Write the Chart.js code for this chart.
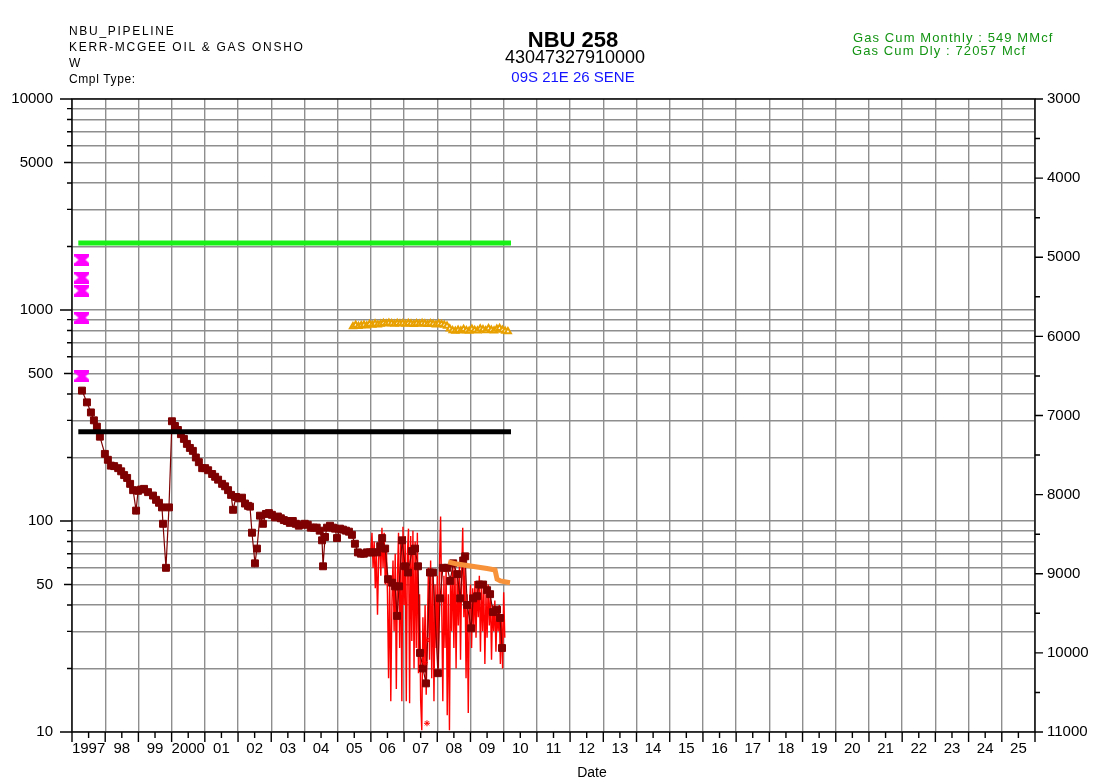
<!DOCTYPE html>
<html>
<head>
<meta charset="utf-8">
<title>NBU 258</title>
<script src="https://cdn.jsdelivr.net/npm/chart.js@4.4.0/dist/chart.umd.min.js"></script>
<style>
  html, body { margin: 0; padding: 0; background: #fff; }
  #wrap { width: 1095px; height: 783px; }
</style>
</head>
<body>
<div id="wrap"><canvas id="prodChart" width="1095" height="783"></canvas></div>
<script>
// header text
var fieldName = 'NBU_PIPELINE';
var operatorName = 'KERR-MCGEE OIL & GAS ONSHO';
var wellType = 'W';
var cmplType = 'Cmpl Type:';
var wellName = 'NBU 258';
var apiNumber = '43047327910000';
var wellLocation = '09S 21E 26 SENE';
var cumLines = ['Gas Cum Monthly : 549 MMcf', 'Gas Cum Dly : 72057 Mcf'];

// axes
var xTickLabels = ['1997', '98', '99', '2000', '01', '02', '03', '04', '05', '06', '07', '08', '09',
  '10', '11', '12', '13', '14', '15', '16', '17', '18', '19', '20', '21', '22', '23', '24', '25'];
var leftTicks = [10, 20, 30, 40, 50, 60, 70, 80, 90, 100, 200, 300, 400, 500, 600, 700, 800, 900,
  1000, 2000, 3000, 4000, 5000, 6000, 7000, 8000, 9000, 10000];
var leftLabels = [10, 50, 100, 500, 1000, 5000, 10000];

// flat reference lines
var refDates = [1997.19, 2010.22];
var greenValues = [2080, 2080];
var blackValues = [265, 265];

// pink markers at first production
var pinkDates = [1997.30, 1997.30, 1997.30, 1997.30, 1997.30];
var pinkValues = [1730, 1425, 1235, 920, 485];

// monthly gas rate (dark red squares)
var gasDates = [1997.30, 1997.45, 1997.57, 1997.66, 1997.75, 1997.84, 1997.99, 1998.08, 1998.17, 1998.27,
  1998.39, 1998.48, 1998.57, 1998.66, 1998.75, 1998.84, 1998.93, 1998.99, 1999.08, 1999.17,
  1999.29, 1999.44, 1999.53, 1999.62, 1999.71, 1999.74, 1999.83, 1999.92, 2000.01, 2000.10,
  2000.19, 2000.28, 2000.37, 2000.46, 2000.55, 2000.64, 2000.73, 2000.82, 2000.92, 2001.01,
  2001.10, 2001.22, 2001.31, 2001.40, 2001.52, 2001.61, 2001.70, 2001.79, 2001.85, 2001.94,
  2002.03, 2002.12, 2002.21, 2002.30, 2002.36, 2002.42, 2002.51, 2002.57, 2002.66, 2002.75,
  2002.84, 2002.93, 2003.02, 2003.11, 2003.20, 2003.29, 2003.38, 2003.47, 2003.56, 2003.65,
  2003.74, 2003.83, 2003.92, 2004.01, 2004.10, 2004.19, 2004.28, 2004.37, 2004.46, 2004.53,
  2004.56, 2004.62, 2004.68, 2004.77, 2004.86, 2004.92, 2004.98, 2005.07, 2005.16, 2005.25,
  2005.34, 2005.43, 2005.52, 2005.61, 2005.70, 2005.79, 2005.88, 2005.97, 2006.06, 2006.19,
  2006.28, 2006.34, 2006.43, 2006.52, 2006.64, 2006.73, 2006.79, 2006.85, 2006.94, 2007.03,
  2007.12, 2007.24, 2007.33, 2007.42, 2007.48, 2007.57, 2007.66, 2007.78, 2007.87, 2008.02,
  2008.08, 2008.17, 2008.30, 2008.39, 2008.48, 2008.60, 2008.69, 2008.78, 2008.84, 2008.90,
  2009.02, 2009.08, 2009.20, 2009.26, 2009.38, 2009.50, 2009.59, 2009.68, 2009.80, 2009.89,
  2009.95];
var gasValues = [415, 365, 327, 300, 280, 251, 208, 195, 183, 182,
  178, 172, 165, 160, 150, 140, 112, 139, 141, 142,
  137, 132, 126, 122, 116, 97, 60, 116, 297, 282,
  270, 258, 245, 232, 222, 215, 200, 190, 178, 178,
  174, 167, 162, 157, 150, 146, 140, 133, 113, 130,
  128, 129, 121, 118, 117, 88, 63, 74, 106, 97,
  108, 109, 107, 104, 105, 103, 101, 100, 98, 100,
  97, 95, 96, 97, 96, 93, 93, 93, 90, 81,
  61, 84, 93, 95, 93, 92, 83, 92, 91, 90,
  89, 86, 78, 71, 70, 70, 71, 71, 71, 71,
  76, 83, 74, 53, 51, 49, 35.5, 49, 81, 61,
  57, 72, 74, 61, 23.7, 20, 17, 57, 57, 19,
  43, 60, 60, 52, 63, 56, 43, 65, 68, 40,
  31, 43, 44, 50, 50, 47, 45, 37, 38, 34.7,
  25];

// daily gas rate (red), sampled every 1/30 year from 2006.0
var dailyStart = 2006.0;
var dailyStep = 1 / 30;
var dailyValues = [70, 88, 60, 80, 48, 72, 36, 65, 85, 55,
  93, 60, 88, 50, 75, 45, 18, 55, 14, 40,
  65, 30, 70, 16, 55, 88, 25, 80, 14, 94,
  40, 85, 14, 70, 92, 13.7, 85, 27, 90, 20,
  80, 25, 88, 19, 45, 14, 10.2, 35, 20, 40,
  15, 30, 60, 22, 65, 18, 58, 14, 50, 25,
  55, 20, 62, 105, 40, 14, 55, 25, 60, 12,
  45, 10.2, 55, 30, 65, 25, 60, 20, 58, 32,
  62, 22, 55, 93, 35, 60, 18, 45, 12.3, 38,
  50, 25, 48, 30, 52, 28, 50, 35, 55, 24,
  48, 30, 52, 21, 45, 28, 50, 32, 44, 22,
  40, 30, 42, 24, 38, 30, 40, 21, 35, 20,
  46, 28];

// odd daily readings drawn as stars
var starDates = [2007.63, 2007.69, 2007.69];
var starValues = [21.3, 27.3, 11];

// monthly casing pressure (gold triangles), from 2005.46
var triStart = 2005.46;
var triValues = [835, 850, 838, 845, 850, 842, 855, 848, 860, 852,
  858, 865, 860, 868, 862, 858, 866, 860, 864, 858,
  866, 860, 855, 862, 858, 865, 860, 856, 862, 858,
  852, 860, 855, 848, 840, 815, 800, 795, 805, 798,
  810, 800, 795, 812, 802, 798, 815, 808, 800, 818,
  805, 798, 812, 820, 805, 795, 790];

// decline trend (orange)
var trendDates = [2008.33, 2008.60, 2008.90, 2009.20, 2009.50, 2009.74, 2009.80, 2009.90, 2010.19];
var trendValues = [64, 62.5, 61.5, 60.5, 59.5, 58.6, 53, 52, 51];

var gridColor = '#8e8e8e';

function toPoints(dates, values) {
  return dates.map(function(d, i) { return {x: d, y: values[i]}; });
}
function evenPoints(start, step, values) {
  return values.map(function(v, i) { return {x: start + i * step, y: v}; });
}

// pink hourglass marker
function makeHourglass() {
  var c = document.createElement('canvas');
  c.width = 15; c.height = 12;
  var g = c.getContext('2d');
  g.fillStyle = '#ff00ff';
  g.beginPath();
  g.moveTo(0, 0); g.lineTo(15, 0); g.lineTo(15, 2.5); g.lineTo(11, 6); g.lineTo(15, 9.5);
  g.lineTo(15, 12); g.lineTo(0, 12); g.lineTo(0, 9.5); g.lineTo(4, 6); g.lineTo(0, 2.5);
  g.closePath();
  g.fill();
  return c;
}

function drawText(ctx, str, x, y, font, color, align, spacing) {
  ctx.font = font;
  ctx.fillStyle = color;
  ctx.textAlign = align;
  ctx.textBaseline = 'middle';
  ctx.letterSpacing = spacing || '0px';
  ctx.fillText(str, x, y);
}

// tick marks, frame and header
var frameAndText = {
  id: 'frameAndText',
  afterDraw: function(chart) {
    var ctx = chart.ctx;
    var a = chart.chartArea;
    var sx = chart.scales.x, sy = chart.scales.y, sy2 = chart.scales.y2;
    ctx.save();
    ctx.strokeStyle = '#000';
    ctx.lineWidth = 1.4;
    ctx.beginPath();
    sx.ticks.forEach(function(t) {
      var px = sx.getPixelForValue(t.value);
      var len = t.value % 1 === 0 ? 10 : 6;
      ctx.moveTo(px, a.bottom); ctx.lineTo(px, a.bottom + len);
    });
    leftTicks.forEach(function(v) {
      var py = sy.getPixelForValue(v);
      var m = v / Math.pow(10, Math.floor(Math.log10(v) + 1e-9));
      var len = Math.abs(m - 1) < 1e-6 ? 12 : (Math.abs(m - 5) < 1e-6 ? 8 : 5);
      ctx.moveTo(a.left - len, py); ctx.lineTo(a.left, py);
    });
    sy2.ticks.forEach(function(t) {
      var py = sy2.getPixelForValue(t.value);
      var len = t.value % 1000 === 0 ? 8 : 5;
      ctx.moveTo(a.right, py); ctx.lineTo(a.right + len, py);
    });
    ctx.stroke();
    ctx.strokeRect(a.left, a.top, a.right - a.left, a.bottom - a.top);

    var small = '12px "Liberation Sans", Arial, sans-serif';
    drawText(ctx, fieldName, 69, 31.5, small, '#000', 'left', '1.7px');
    drawText(ctx, operatorName, 69, 48, small, '#000', 'left', '1.7px');
    drawText(ctx, wellType, 69, 64, small, '#000', 'left', '1.7px');
    drawText(ctx, cmplType, 69, 80, small, '#000', 'left', '0.6px');

    drawText(ctx, wellName, 573, 41, 'bold 22px "Liberation Sans", Arial, sans-serif', '#000', 'center');
    drawText(ctx, apiNumber, 575, 58, '18px "Liberation Sans", Arial, sans-serif', '#000', 'center');
    drawText(ctx, wellLocation, 573, 78, '15px "Liberation Sans", Arial, sans-serif', '#1414ff', 'center');

    drawText(ctx, cumLines[0], 853, 38, '13px "Liberation Sans", Arial, sans-serif', '#139413', 'left', '1.1px');
    drawText(ctx, cumLines[1], 852, 51, '13px "Liberation Sans", Arial, sans-serif', '#139413', 'left', '1.1px');

    drawText(ctx, 'Date', 592, 773, '14px "Liberation Sans", Arial, sans-serif', '#000', 'center');
    ctx.restore();
  }
};

Chart.defaults.font.family = '"Liberation Sans", Arial, sans-serif';
Chart.defaults.font.size = 15;
Chart.defaults.color = '#000';

var chart = new Chart(document.getElementById('prodChart'), {
  type: 'line',
  data: {
    datasets: [
      {data: toPoints(refDates, blackValues), borderColor: '#000', borderWidth: 5, pointRadius: 0, order: 1},
      {data: toPoints(refDates, greenValues), borderColor: '#18f018', borderWidth: 5, pointRadius: 0, order: 2},
      {data: toPoints(pinkDates, pinkValues), showLine: false, pointStyle: makeHourglass(), pointRadius: 7, order: 3},
      {data: toPoints(trendDates, trendValues), borderColor: '#f7923a', borderWidth: 5, pointRadius: 0, order: 4},
      {data: evenPoints(triStart, 1 / 12, triValues), borderColor: '#e8a000', borderWidth: 2,
        pointStyle: 'triangle', pointRadius: 3.5, pointBackgroundColor: '#fff', pointBorderColor: '#e8a000',
        pointBorderWidth: 2, order: 5},
      {data: toPoints(starDates, starValues), showLine: false, pointStyle: 'star', pointRadius: 3,
        pointBorderColor: '#ff0000', pointBorderWidth: 1, order: 6},
      {data: toPoints(gasDates, gasValues), borderColor: '#7f0000', borderWidth: 1.2, pointStyle: 'rect',
        pointRadius: 4.9, pointBackgroundColor: '#7f0000', pointBorderColor: '#7f0000', pointBorderWidth: 1, order: 7},
      {data: evenPoints(dailyStart, dailyStep, dailyValues), borderColor: '#ff0000', borderWidth: 1.4,
        pointRadius: 0, order: 8}
    ]
  },
  options: {
    responsive: false,
    animation: false,
    layout: {padding: {top: 99}},
    elements: {line: {tension: 0}},
    plugins: {legend: {display: false}, tooltip: {enabled: false}},
    scales: {
      x: {
        type: 'linear', min: 1997, max: 2026,
        afterBuildTicks: function(scale) {
          var t = [];
          for (var v = 1997; v <= 2026; v += 0.5) t.push({value: v});
          scale.ticks = t;
        },
        afterFit: function(scale) { scale.height = 51; },
        border: {display: false},
        grid: {
          drawTicks: false, lineWidth: 1.4,
          color: function(c) { return c.tick && c.tick.value % 1 === 0 ? gridColor : 'rgba(0,0,0,0)'; }
        },
        ticks: {
          autoSkip: false, maxRotation: 0, padding: 8,
          callback: function(v) { return v % 1 === 0.5 ? xTickLabels[Math.floor(v) - 1997] : ''; }
        }
      },
      y: {
        type: 'logarithmic', position: 'left', min: 10, max: 10000,
        afterBuildTicks: function(scale) {
          scale.ticks = leftTicks.map(function(v) { return {value: v}; });
        },
        afterFit: function(scale) { scale.width = 72; },
        border: {display: false},
        grid: {drawTicks: false, color: gridColor, lineWidth: 1.4},
        ticks: {
          autoSkip: false, padding: 19,
          callback: function(v) { return leftLabels.indexOf(v) >= 0 ? String(v) : ''; }
        }
      },
      y2: {
        type: 'linear', position: 'right', reverse: true, min: 3000, max: 11000,
        afterFit: function(scale) { scale.width = 60; },
        border: {display: false},
        grid: {drawOnChartArea: false, drawTicks: false},
        ticks: {
          stepSize: 500, autoSkip: false, padding: 12,
          callback: function(v) { return v % 1000 === 0 ? String(v) : ''; }
        }
      }
    }
  },
  plugins: [frameAndText]
});
</script>
</body>
</html>
